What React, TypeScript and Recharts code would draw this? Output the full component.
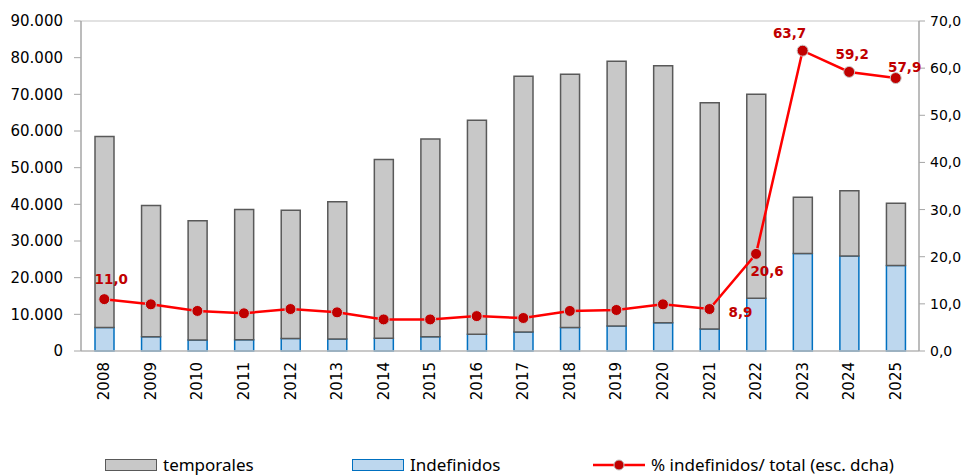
import React from "react"
import { ComposedChart, Bar, Line, XAxis, YAxis, CartesianGrid, Legend, LabelList } from "recharts"

const years = ["2008", "2009", "2010", "2011", "2012", "2013", "2014", "2015", "2016", "2017", "2018", "2019", "2020", "2021", "2022", "2023", "2024", "2025"]
const indefinidos = [6400, 3900, 3000, 3100, 3400, 3300, 3500, 3900, 4600, 5200, 6400, 6800, 7700, 6000, 14400, 26600, 25900, 23300]
const temporales = [52100, 35800, 32500, 35500, 35000, 37400, 48700, 53900, 58300, 69700, 69100, 72200, 70100, 61700, 55600, 15300, 17800, 17000]
const pctIndef = [11.0, 9.9, 8.5, 8.0, 8.9, 8.2, 6.7, 6.7, 7.4, 7.0, 8.5, 8.7, 9.9, 8.9, 20.6, 63.7, 59.2, 57.9]
const leftTicks = [0, 10000, 20000, 30000, 40000, 50000, 60000, 70000, 80000, 90000]
const rightTicks = [0, 10, 20, 30, 40, 50, 60, 70]
const labelledYears = ["2008", "2021", "2022", "2023", "2024", "2025"]

// where each shown label sits relative to its point
const labelOffsets: Record<string, [number, number]> = {
  "2008": [7, -20],
  "2021": [31, 3],
  "2022": [11, 17],
  "2023": [-13, -18],
  "2024": [3, -18],
  "2025": [9, -11],
}

const data = years.map((year, i) => ({
  year,
  indefinidos: indefinidos[i],
  temporales: temporales[i],
  pct: pctIndef[i],
}))

const tickFont = "'DejaVu Sans', Verdana, sans-serif"
const legendFont = "'Liberation Sans Narrow', 'Arial Narrow', 'Noto Sans', sans-serif"

const fmtThousands = (v: number) => v.toLocaleString("de-DE")
const fmtPct = (v: number) => v.toFixed(1).replace(".", ",")

function YearTick(props: any) {
  const { x, y, payload } = props
  return (
    <text
      x={x}
      y={y + 3}
      transform={`rotate(-90 ${x} ${y + 3})`}
      textAnchor="end"
      dominantBaseline="central"
      fontSize={15}
      fontFamily={tickFont}
      fill="#000"
    >
      {payload.value}
    </text>
  )
}

function PctLabel(props: any) {
  const { x, y, value, index } = props
  const year = years[index]
  if (!labelledYears.includes(year)) return null
  const [dx, dy] = labelOffsets[year]
  return (
    <text
      x={x + dx}
      y={y + dy}
      textAnchor="middle"
      dominantBaseline="central"
      fontSize={13.5}
      fontWeight="bold"
      fontFamily={tickFont}
      fill="#C00000"
    >
      {fmtPct(value)}
    </text>
  )
}

function LegendBox() {
  const item = { position: "absolute" as const, display: "flex", alignItems: "center", top: 7 }
  const text = { fontFamily: legendFont, fontSize: 17, color: "#000", marginLeft: 6 }
  return (
    <div style={{ position: "relative", width: 965, height: 30 }}>
      <div style={{ ...item, left: 105 }}>
        <div style={{ width: 50, height: 10, background: "#C8C8C8", border: "1.5px solid #595959" }} />
        <span style={text}>temporales</span>
      </div>
      <div style={{ ...item, left: 352 }}>
        <div style={{ width: 50, height: 10, background: "#BDD7EE", border: "1.5px solid #0070C0" }} />
        <span style={text}>Indefinidos</span>
      </div>
      <div style={{ ...item, left: 593 }}>
        <svg width={52} height={14}>
          <line x1={0} y1={7} x2={52} y2={7} stroke="#FF0000" strokeWidth={2.5} />
          <circle cx={26} cy={7} r={5} fill="#C00000" stroke="#BFBFBF" strokeWidth={1} />
        </svg>
        <span style={text}>% indefinidos/ total (esc. dcha)</span>
      </div>
    </div>
  )
}

export default function App() {
  return (
    <div style={{ position: "absolute", left: 0, top: 0, width: 965, height: 476, background: "#fff" }}>
      <ComposedChart
        width={965}
        height={476}
        data={data}
        margin={{ top: 21, right: 0, left: 0, bottom: 0 }}
        barSize={19}
      >
        <CartesianGrid vertical={false} stroke="#D9D9D9" strokeWidth={1.5} />
        <XAxis
          dataKey="year"
          tick={<YearTick />}
          tickLine={false}
          axisLine={{ stroke: "#BFBFBF", strokeWidth: 1.5 }}
          height={95}
          interval={0}
        />
        <YAxis
          yAxisId="left"
          domain={[0, 90000]}
          ticks={leftTicks}
          tickFormatter={fmtThousands}
          width={81}
          tickSize={7}
          tickMargin={11}
          tickLine={{ stroke: "#A6A6A6" }}
          axisLine={{ stroke: "#A6A6A6", strokeWidth: 1.5 }}
          tick={{ fontSize: 15, fontFamily: tickFont, fill: "#000" }}
        />
        <YAxis
          yAxisId="right"
          orientation="right"
          domain={[0, 70]}
          ticks={rightTicks}
          tickFormatter={fmtPct}
          width={46}
          tickSize={6}
          tickMargin={5}
          tickLine={{ stroke: "#A6A6A6" }}
          axisLine={{ stroke: "#A6A6A6", strokeWidth: 1.5 }}
          tick={{ fontSize: 14, fontFamily: tickFont, fill: "#000", textAnchor: "start" }}
        />
        <Legend verticalAlign="bottom" height={30} content={<LegendBox />} />
        <Bar
          yAxisId="left"
          dataKey="indefinidos"
          stackId="a"
          fill="#BDD7EE"
          stroke="#0070C0"
          strokeWidth={1.5}
          isAnimationActive={false}
        />
        <Bar
          yAxisId="left"
          dataKey="temporales"
          stackId="a"
          fill="#C8C8C8"
          stroke="#595959"
          strokeWidth={1.5}
          isAnimationActive={false}
        />
        <Line
          yAxisId="right"
          dataKey="pct"
          stroke="#FF0000"
          strokeWidth={2.5}
          dot={{ r: 5.5, fill: "#C00000", stroke: "#C9C9C9", strokeWidth: 1 }}
          isAnimationActive={false}
        >
          <LabelList dataKey="pct" content={<PctLabel />} />
        </Line>
      </ComposedChart>
    </div>
  )
}
